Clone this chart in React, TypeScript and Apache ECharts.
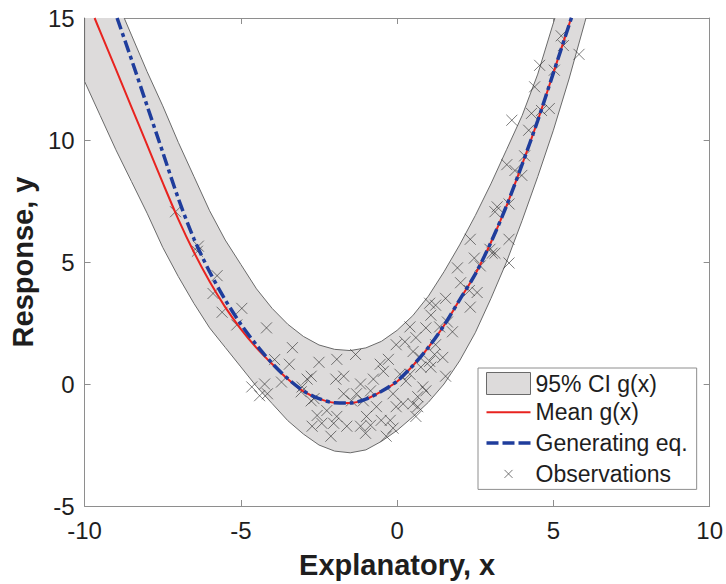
import React, { useEffect, useRef } from 'react';
import * as echarts from 'echarts';

// Axis ranges / ticks
const X_MIN = -10;
const X_MAX = 10;
const X_STEP = 5;
const Y_MIN = -5;
const Y_MAX = 15;
const Y_STEP = 5;

// 95% confidence band of g(x): shared x grid, upper and lower bounds
const CI_X = [-10, -9.5, -9, -8.5, -8, -7.5, -7, -6.5, -6, -5.5, -5, -4.5, -4, -3.5, -3, -2.5, -2, -1.5, -1, -0.5, 0, 0.5, 1, 1.5, 2, 2.5, 3, 3.5, 4, 4.5, 5, 5.5, 6, 6.5, 7];
const CI_UPPER = [18.8, 17.3, 15.8, 14.3, 12.8, 11.4, 9.9, 8.5, 7.1, 5.9, 4.9, 3.9, 3.1, 2.45, 1.95, 1.6, 1.42, 1.37, 1.48, 1.75, 2.2, 2.8, 3.6, 4.6, 5.7, 6.9, 8.2, 9.6, 11.0, 12.7, 14.8, 16.8, 19.0, 21.3, 23.6];
const CI_LOWER = [12.4, 11.0, 9.6, 8.3, 7.0, 5.6, 4.4, 3.3, 2.3, 1.5, 0.7, -0.1, -0.8, -1.5, -2.05, -2.5, -2.75, -2.82, -2.7, -2.35, -1.9, -1.35, -0.75, 0.0, 0.95, 2.1, 3.5, 5.0, 6.7, 8.5, 10.4, 12.5, 14.8, 17.1, 19.4];

// Mean g(x)
const MEAN_X = [-9.68, -9.5, -9, -8.5, -8, -7.5, -7, -6.5, -6, -5.5, -5, -4.5, -4, -3.5, -3, -2.5, -2, -1.5, -1, -0.5, 0, 0.5, 1, 1.5, 2, 2.5, 3, 3.5, 4, 4.5, 5, 5.57];
const MEAN_Y = [15, 14.44, 12.9, 11.35, 9.8, 8.25, 6.75, 5.4, 4.2, 3.15, 2.25, 1.48, 0.82, 0.2, -0.3, -0.6, -0.77, -0.78, -0.62, -0.3, 0.1, 0.75, 1.5, 2.4, 3.45, 4.5, 5.8, 7.3, 9.0, 10.8, 12.75, 15];

// Generating equation
const GEN_X = [-8.96, -8.5, -8, -7.5, -7, -6.5, -6, -5.5, -5, -4.5, -4, -3.5, -3, -2.5, -2, -1.5, -1, -0.5, 0, 0.5, 1, 1.5, 2, 2.5, 3, 3.5, 4, 4.5, 5, 5.6];
const GEN_Y = [15, 13.3, 11.4, 9.5, 7.6, 5.95, 4.6, 3.45, 2.45, 1.6, 0.85, 0.22, -0.28, -0.6, -0.77, -0.78, -0.62, -0.3, 0.12, 0.75, 1.5, 2.4, 3.45, 4.5, 5.8, 7.3, 9.0, 10.8, 12.75, 15.1];

// Observations
const OBS_X = [
  -7.09, -6.36, -6.39, -5.76, -5.89, -5.6, -4.97, -5.13, -4.18, -3.35, -3.92, -3.45, -2.5, -2.75, -4.65, -4.24, -4.15, -4.4, -3.7, -3.07, -2.75, -2.56, -2.72, -2.41,
  -1.93, -1.33, -2.88, -3.04, -1.71, -1.96, -1.17, -1.3, -0.76, -0.54, -0.44, -0.28, -0.03, 0.25, 0.41, 0.51, 0.73, 0.09, -0.13, 0.19, -0.03, 0.51, -2.66, -2.25, -1.93, -2.03, -2.12, -1.61, -0.98, -1.17, -1.01, -0.85, -0.66, -0.51, -0.22, -0.13, -0.35, -1.46, -1.08, -0.85, -1.71,
  3.58, 3.58, 3.04, 2.34, 2.47, 2.66, 1.93, 2.03, 2.31, 2.56, 2.34, 1.55, 1.04, 1.23, 1.08, 1.61, 1.77, 1.36, 0.92, 0.6, 1.23, 1.2, 1.04, 1.46, 1.55, 0.41, 0.76, 1.08, 0.28, 0.82, 0.66, 0.92, 0.66, 0.6,
  3.67, 4.3, 4.62, 4.87, 4.21, 4.08, 3.51, 3.77, 3.99, 3.2, 3.13, 3.58, 2.97, 3.13,
  5.25, 5.32, 5.82, 4.56, 5.03, 4.4,
];
const OBS_Y = [
  7.06, 5.65, 5.44, 4.44, 3.71, 2.94, 3.1, 2.42, 2.3, 1.49, 1.0, 0.81, 0.89, 0.32, -0.12, 0.0, -0.4, -0.48, 0.08, -0.32, -0.69, -1.29, -1.73, -1.61,
  1.01, 1.21, 0.2, -0.12, 0.32, 0.2, 0.0, -0.4, 0.2, 0.81, 0.52, 1.01, 1.61, 1.73, 2.34, 1.33, 1.09, 0.4, -0.4, -0.81, -0.93, -0.81, -0.6, -1.09, -1.33, -1.61, -2.14, -1.73, -1.33, -1.73, -2.02, -1.69, -0.93, -1.49, -1.49, -1.81, -2.14, -0.69, -0.69, -0.28, -0.4,
  5.93, 4.96, 5.36, 5.93, 5.16, 4.84, 4.76, 4.15, 3.83, 3.75, 3.15, 3.51, 3.31, 3.23, 2.82, 2.54, 2.14, 2.34, 2.3, 1.9, 1.61, 1.21, 0.93, 1.09, 0.32, 0.4, 0.69, 0.69, 0.12, -0.12, -0.52, -0.28, -0.93, -1.33,
  10.81, 11.09, 11.21, 11.29, 10.4, 9.35, 8.99, 8.75, 8.55, 7.26, 7.06, 7.38, 5.52, 5.36,
  14.27, 13.87, 13.51, 13.06, 12.86, 12.18,
];

const NAME_CI = '95% CI g(x)';
const NAME_MEAN = 'Mean g(x)';
const NAME_GEN = 'Generating eq.';
const NAME_OBS = 'Observations';

const FONT = "'Liberation Sans', Arial, Helvetica, sans-serif";
const AXIS_GRAY = '#8e8e8e';
const TEXT = '#1e1e1e';
const RED = '#e8231f';
const BLUE = '#1f3d9c';
const BAND_FILL = '#dddbdb';
const BAND_EDGE = '#6a6a6a';
const OBS_COLOR = 'rgba(30,30,30,0.72)';

export default function App() {
  const ref = useRef<HTMLDivElement>(null);

  useEffect(() => {
    if (!ref.current) return;
    const chart = echarts.init(ref.current, null, { renderer: 'svg' });

    const axisCommon = {
      type: 'value',
      axisLine: { show: true, onZero: false, lineStyle: { color: AXIS_GRAY, width: 1 } },
      axisTick: { show: true, inside: true, length: 6, lineStyle: { color: AXIS_GRAY, width: 1 } },
      splitLine: { show: false },
    };

    const option: any = {
      animation: false,
      backgroundColor: '#ffffff',
      textStyle: { fontFamily: FONT },
      grid: { left: 78, right: 16, top: 18, bottom: 71, containLabel: false },
      xAxis: [
        {
          ...axisCommon,
          position: 'bottom',
          min: X_MIN,
          max: X_MAX,
          interval: X_STEP,
          name: 'Explanatory, x',
          nameLocation: 'middle',
          nameGap: 44,
          nameTextStyle: { fontSize: 29, fontWeight: 'bold', color: TEXT, fontFamily: FONT },
          axisLabel: { fontSize: 24, color: TEXT, margin: 12, fontFamily: FONT },
        },
        {
          ...axisCommon,
          position: 'top',
          min: X_MIN,
          max: X_MAX,
          interval: X_STEP,
          axisLabel: { show: false },
        },
      ],
      yAxis: [
        {
          ...axisCommon,
          position: 'left',
          min: Y_MIN,
          max: Y_MAX,
          interval: Y_STEP,
          name: 'Response, y',
          nameLocation: 'middle',
          nameRotate: 90,
          nameGap: 40,
          nameTextStyle: { fontSize: 29, fontWeight: 'bold', color: TEXT, fontFamily: FONT },
          axisLabel: { fontSize: 24, color: TEXT, margin: 10, fontFamily: FONT },
        },
        {
          ...axisCommon,
          position: 'right',
          min: Y_MIN,
          max: Y_MAX,
          interval: Y_STEP,
          axisLabel: { show: false },
        },
      ],
      legend: {
        orient: 'vertical',
        left: 478,
        top: 368,
        padding: [4, 9, 2, 6],
        backgroundColor: '#ffffff',
        borderColor: AXIS_GRAY,
        borderWidth: 1,
        borderRadius: 0,
        itemWidth: 44,
        itemHeight: 22,
        itemGap: 3.8,
        selectedMode: false,
        textStyle: { fontSize: 23, color: TEXT, fontFamily: FONT },
        data: [
          { name: NAME_CI, icon: 'rect', itemStyle: { color: BAND_FILL, borderColor: BAND_EDGE, borderWidth: 1 } },
          { name: NAME_MEAN, icon: 'path://M0,0M44,22M0,11L44,11', itemStyle: { color: 'none', borderColor: RED, borderWidth: 2 } },
          { name: NAME_GEN, icon: 'path://M0,0M44,22M0,11L44,11', itemStyle: { color: 'none', borderColor: BLUE, borderWidth: 3.5, borderType: [12, 4] } },
          { name: NAME_OBS, icon: 'path://M0,0M44,22M18,7L26,15M26,7L18,15', itemStyle: { color: 'none', borderColor: '#555555', borderWidth: 1 } },
        ],
      },
      series: [
        {
          type: 'custom',
          name: NAME_CI,
          coordinateSystem: 'cartesian2d',
          xAxisIndex: 0,
          yAxisIndex: 0,
          clip: true,
          silent: true,
          itemStyle: { color: BAND_FILL, borderColor: BAND_EDGE },
          data: [[CI_X[0], CI_LOWER[0]]],
          renderItem: (_params: any, api: any) => {
            const pts: number[][] = [];
            for (let i = 0; i < CI_X.length; i++) pts.push(api.coord([CI_X[i], CI_UPPER[i]]));
            for (let i = CI_X.length - 1; i >= 0; i--) pts.push(api.coord([CI_X[i], CI_LOWER[i]]));
            return {
              type: 'polygon',
              shape: { points: pts, smooth: 0 },
              style: { fill: BAND_FILL, stroke: BAND_EDGE, lineWidth: 1 },
            };
          },
        },
        {
          type: 'line',
          name: NAME_MEAN,
          xAxisIndex: 0,
          yAxisIndex: 0,
          data: MEAN_X.map((x, i) => [x, MEAN_Y[i]]),
          symbol: 'none',
          showSymbol: false,
          smooth: 0.3,
          clip: true,
          silent: true,
          itemStyle: { color: RED },
          lineStyle: { color: RED, width: 2 },
        },
        {
          type: 'line',
          name: NAME_GEN,
          xAxisIndex: 0,
          yAxisIndex: 0,
          data: GEN_X.map((x, i) => [x, GEN_Y[i]]),
          symbol: 'none',
          showSymbol: false,
          smooth: 0.3,
          clip: true,
          silent: true,
          itemStyle: { color: BLUE },
          lineStyle: { color: BLUE, width: 3.5, type: [12, 4, 4, 4] },
        },
        {
          type: 'scatter',
          name: NAME_OBS,
          xAxisIndex: 0,
          yAxisIndex: 0,
          data: OBS_X.map((x, i) => [x, OBS_Y[i]]),
          symbol: 'path://M0,0L10,10M10,0L0,10',
          symbolSize: 11,
          silent: true,
          itemStyle: { color: 'rgba(0,0,0,0)', borderColor: OBS_COLOR, borderWidth: 1 },
        },
      ],
    };

    chart.setOption(option);
    return () => {
      chart.dispose();
    };
  }, []);

  return (
    <div
      ref={ref}
      style={{ position: 'fixed', left: 0, top: 0, width: 726, height: 584, background: '#ffffff' }}
    />
  );
}
